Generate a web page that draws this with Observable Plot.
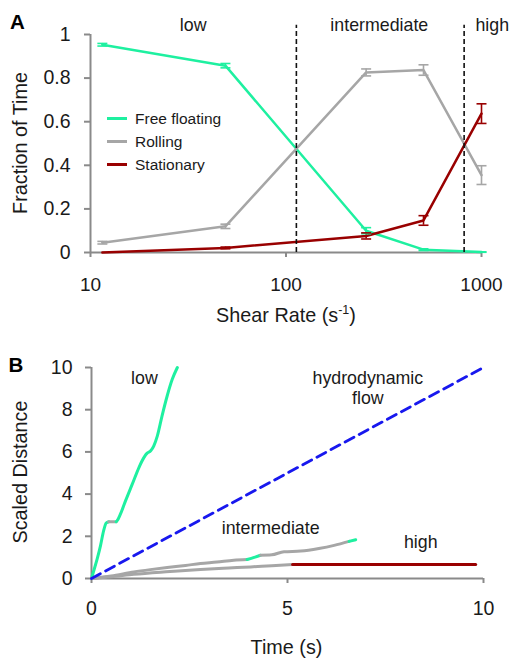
<!DOCTYPE html>
<html><head><meta charset="utf-8">
<script src="https://cdn.jsdelivr.net/npm/d3@7"></script>
<script src="https://cdn.jsdelivr.net/npm/@observablehq/plot@0.6"></script>
<style>
body{margin:0;background:#fff;}
#chart svg{display:block;}
</style></head><body><div id="chart"></div>
<script>
// ---------- Panel A data ----------
const shearRates = [11.5, 49, 257, 505, 1000];
const freeFloating = [0.953, 0.857, 0.100, 0.013, 0.002];
const freeFloatingErr = [0.006, 0.010, 0.014, 0.004, 0.001];
const rolling = [0.045, 0.120, 0.826, 0.837, 0.355];
const rollingErr = [0.006, 0.010, 0.016, 0.024, 0.043];
const stationary = [0.000, 0.021, 0.076, 0.147, 0.637];
const stationaryErr = [0.000, 0.004, 0.014, 0.022, 0.045];
const seriesNames = ["Free floating", "Rolling", "Stationary"];
const seriesColors = ["#1ef0a0", "#a6a6a6", "#990000"];
const regimeBounds = [113, 815];
const regimeNames = ["low", "intermediate", "high"];
const regimeLabelX = [33.5, 300, 1135];
const xTicksA = [10, 100, 1000];
const yTicksA = [0, 0.2, 0.4, 0.6, 0.8, 1];

// ---------- Panel B data ----------
const lowTime  = [0, 0.06, 0.145, 0.23, 0.31, 0.375, 0.44, 0.63, 0.655, 0.74, 0.87, 1.04, 1.21, 1.34, 1.42, 1.51, 1.59, 1.68, 1.80, 1.93, 2.06, 2.19];
const lowDist  = [0, 0.38, 0.93, 1.56, 2.27, 2.63, 2.69, 2.69, 2.74, 3.06, 3.69, 4.47, 5.26, 5.74, 5.94, 6.05, 6.29, 6.76, 7.71, 8.65, 9.44, 10.0];
const lowState = ["Free floating","Free floating","Free floating","Free floating","Free floating","Free floating","Free floating","Rolling","Free floating","Free floating","Free floating","Free floating","Free floating","Free floating","Free floating","Free floating","Free floating","Free floating","Free floating","Free floating","Free floating","Free floating"];
const midTime  = [0, 0.5, 1.08, 1.5, 1.93, 2.4, 2.78, 3.2, 3.63, 3.97, 4.15, 4.31, 4.6, 4.91, 5.34, 5.8, 6.19, 6.57, 6.74];
const midDist  = [0, 0.12, 0.31, 0.42, 0.52, 0.62, 0.71, 0.78, 0.87, 0.90, 1.00, 1.10, 1.12, 1.27, 1.30, 1.42, 1.57, 1.76, 1.84];
const midState = ["Rolling","Rolling","Rolling","Rolling","Rolling","Rolling","Rolling","Rolling","Rolling","Rolling","Free floating","Free floating","Rolling","Rolling","Rolling","Rolling","Rolling","Rolling","Free floating"];
const highTime  = [0, 0.5, 1.08, 2.0, 2.78, 3.5, 4.06, 4.6, 5.13, 9.8];
const highDist  = [0, 0.08, 0.20, 0.33, 0.43, 0.50, 0.55, 0.61, 0.66, 0.66];
const highState = ["Rolling","Rolling","Rolling","Rolling","Rolling","Rolling","Rolling","Rolling","Rolling","Stationary"];
const flowTime = [0, 10];
const flowDist = [0, 10];
const curveLabels = ["low", "hydrodynamic", "flow", "intermediate", "high"];
const curveLabelT = [1.35, 7.05, 7.05, 4.57, 8.4];
const curveLabelD = [9.47, 9.47, 8.52, 2.38, 1.72];
const xTicksB = [0, 5, 10];
const yTicksB = [0, 2, 4, 6, 8, 10];

// ---------- build tables ----------
const rowsA = [];
[[freeFloating, freeFloatingErr], [rolling, rollingErr], [stationary, stationaryErr]].forEach(([vals, errs], k) => {
  shearRates.forEach((x, i) => rowsA.push({series: seriesNames[k], x, y: vals[i], err: errs[i]}));
});
const errRows = rowsA.filter(d => d.err > 0);

function buildSegments(name, T, D, S) {
  const out = [];
  let seg = 0;
  for (let i = 0; i < T.length; i++) {
    const st = i === 0 ? S[1] : S[i];
    if (i > 1 && S[i] !== S[i - 1]) {
      seg++;
      out.push({t: T[i - 1], d: D[i - 1], state: st, seg: name + seg});
    }
    out.push({t: T[i], d: D[i], state: st, seg: name + seg});
  }
  return out;
}
const segRows = [
  ...buildSegments("low", lowTime, lowDist, lowState),
  ...buildSegments("mid", midTime, midDist, midState),
  ...buildSegments("high", highTime, highDist, highState)
];
const flowRows = flowTime.map((t, i) => ({t, d: flowDist[i]}));
const labelRows = curveLabels.map((s, i) => ({s, t: curveLabelT[i], d: curveLabelD[i]}));
const regimeRows = regimeNames.map((s, i) => ({s, x: regimeLabelX[i]}));

const FONT = "'Liberation Sans', Arial, Helvetica, sans-serif";
const TXT = "#1a1a1a";
const AX = "#8a8a8a";
const capSymbol = {draw(ctx, size) { const w = Math.sqrt(size / Math.PI); ctx.moveTo(-w, 0); ctx.lineTo(w, 0); }};
const colorScale = {domain: seriesNames, range: seriesColors};
const fmt = d => String(d);

// ---------- Panel A ----------
const plotA = Plot.plot({
  width: 509, height: 330,
  marginLeft: 90, marginRight: 28, marginTop: 34, marginBottom: 78,
  style: {fontFamily: FONT, color: TXT, background: "#fff", overflow: "visible"},
  x: {type: "log", domain: [10, 1000]},
  y: {domain: [0, 1]},
  color: colorScale,
  marks: [
    Plot.axisX({ticks: xTicksA, tickFormat: fmt, tickSize: 5, tickPadding: 20, fontSize: 19, stroke: AX, fill: TXT, strokeWidth: 2, label: null}),
    Plot.axisY({ticks: yTicksA, tickFormat: fmt, tickSize: 6, tickPadding: 14, fontSize: 19.5, stroke: AX, fill: TXT, strokeWidth: 2, label: null}),
    Plot.ruleY([0], {stroke: AX, strokeWidth: 2}),
    Plot.ruleX([10], {stroke: AX, strokeWidth: 2}),
    Plot.line(rowsA, {x: "x", y: "y", z: "series", stroke: "series", strokeWidth: 2.5}),
    Plot.ruleX(errRows, {x: "x", y1: d => d.y - d.err, y2: d => d.y + d.err, stroke: "series", strokeWidth: 1.6}),
    Plot.dot(errRows, {x: "x", y: d => d.y - d.err, symbol: capSymbol, r: 5, fill: "none", stroke: "series", strokeWidth: 1.6}),
    Plot.dot(errRows, {x: "x", y: d => d.y + d.err, symbol: capSymbol, r: 5, fill: "none", stroke: "series", strokeWidth: 1.6}),
    Plot.ruleX(regimeBounds, {y1: 0, y2: 1.042, stroke: "#111", strokeWidth: 1.6, strokeDasharray: "5,3"}),
    Plot.text(regimeRows, {x: "x", y: () => 1.041, text: "s", fontSize: 17.8, fill: TXT, lineAnchor: "middle"})
  ]
});

// ---------- Panel B ----------
const plotB = Plot.plot({
  width: 509, height: 329,
  marginLeft: 91, marginRight: 26, marginTop: 37, marginBottom: 81,
  style: {fontFamily: FONT, color: TXT, background: "#fff", overflow: "visible"},
  x: {domain: [0, 10]},
  y: {domain: [0, 10]},
  color: colorScale,
  marks: [
    Plot.axisX({ticks: xTicksB, tickFormat: fmt, tickSize: 5, tickPadding: 18, fontSize: 19.5, stroke: AX, fill: TXT, strokeWidth: 2, label: null}),
    Plot.axisY({ticks: yTicksB, tickFormat: fmt, tickSize: 6, tickPadding: 13, fontSize: 19.5, stroke: AX, fill: TXT, strokeWidth: 2, label: null}),
    Plot.ruleY([0], {stroke: AX, strokeWidth: 2}),
    Plot.ruleX([0], {stroke: AX, strokeWidth: 2}),
    Plot.line(segRows, {x: "t", y: "d", z: "seg", stroke: "state", strokeWidth: 3, curve: "monotone-x", strokeLinecap: "round"}),
    Plot.line(flowRows, {x: "t", y: "d", stroke: "#1818ee", strokeWidth: 2.8, strokeDasharray: "10,6"}),
    Plot.text(labelRows, {x: "t", y: "d", text: "s", fontSize: 17.8, fill: TXT, lineAnchor: "middle"})
  ]
});

// ---------- titles, legend, panel letters ----------
function addText(svg, str, x, y, opts = {}) {
  const t = d3.select(svg).append("text")
    .attr("x", x).attr("y", y)
    .style("fill", opts.fill || TXT)
    .style("font-family", FONT)
    .style("font-size", (opts.size || 20) + "px")
    .style("font-weight", opts.weight || "normal")
    .attr("text-anchor", opts.anchor || "start")
    .text(str);
  if (opts.rotate) t.attr("transform", `rotate(-90 ${x} ${y})`);
  return t;
}
addText(plotA, "A", 10, 28.5, {size: 20.5, weight: "bold", fill: "#000"});
addText(plotA, "Fraction of Time", 26.5, 143, {size: 19.8, anchor: "middle", rotate: true});
const xt = addText(plotA, "", 286, 322, {size: 19.8, anchor: "middle"});
xt.append("tspan").text("Shear Rate (s");
xt.append("tspan").style("font-size", "12.5px").attr("dy", -8).text("-1");
xt.append("tspan").attr("dy", 8).text(")");

// legend
const lg = d3.select(plotA).append("g");
seriesNames.forEach((s, i) => {
  const y = [118.5, 141.5, 164.5][i];
  lg.append("line").attr("x1", 107).attr("x2", 127).attr("y1", y).attr("y2", y)
    .attr("stroke", seriesColors[i]).attr("stroke-width", 3);
  addText(plotA, s, 135, y + 5.5, {size: 15.5});
});

addText(plotB, "B", 8.5, 41.5, {size: 20.5, weight: "bold", fill: "#000"});
addText(plotB, "Scaled Distance", 26.5, 142, {size: 19.8, anchor: "middle", rotate: true});
addText(plotB, "Time (s)", 286.5, 324, {size: 19.8, anchor: "middle"});

document.getElementById("chart").append(plotA, plotB);
</script></body></html>
